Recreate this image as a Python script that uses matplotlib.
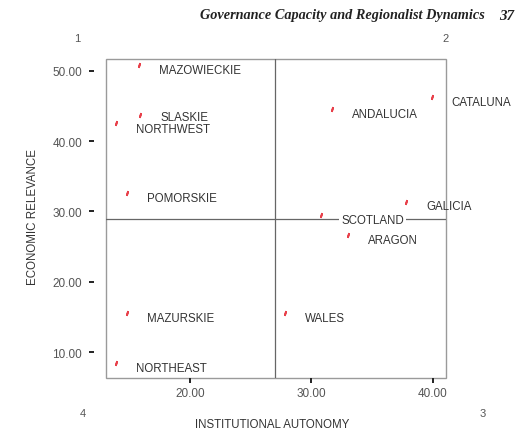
import matplotlib.pyplot as plt
from matplotlib.patches import Rectangle

# regions
regions = ["MAZOWIECKIE", "CATALUNA", "ANDALUCIA", "SLASKIE", "NORTHWEST", "POMORSKIE",
           "GALICIA", "SCOTLAND", "ARAGON", "MAZURSKIE", "WALES", "NORTHEAST"]
autonomy = [15.8, 39.9, 31.7, 15.9, 13.9, 14.8, 37.8, 30.8, 33.0, 14.8, 27.8, 13.9]
relevance = [50.8, 46.3, 44.6, 43.8, 42.6, 32.6, 31.4, 29.5, 26.6, 15.5, 15.5, 8.4]

x_ticks = [20, 30, 40]
y_ticks = [10, 20, 30, 40, 50]
x_ref = 27.0
y_ref = 29.0

plt.rcParams['font.family'] = ['Liberation Sans', 'DejaVu Sans']
txt = '#333333'

fig = plt.figure(figsize=(5.2, 4.31), dpi=100)
ax = fig.add_axes([0.2038, 0.1206, 0.6538, 0.7402])
ax.set_xlim(13.09, 41.07)
ax.set_ylim(6.3, 51.7)

for s in ax.spines.values():
    s.set_color('none')
ax.spines['left'].set_position(('outward', 8.6))
ax.add_patch(Rectangle((0, 0), 1, 1, transform=ax.transAxes, fill=False,
                       edgecolor='#9a9a9a', lw=1.0, clip_on=False, zorder=1))

ax.axvline(x_ref, color='#666666', lw=0.9, zorder=1)
ax.axhline(y_ref, color='#666666', lw=0.9, zorder=1)

ax.plot(autonomy, relevance, ls='none', marker=(2, 2, -15), ms=3.6, mew=1.3,
        color='#e8404a', zorder=3)
for name, x, y in zip(regions, autonomy, relevance):
    box = None
    dy = -3.4
    if name == "SCOTLAND":
        box = dict(facecolor='white', edgecolor='none', pad=1.5)
    # these two sit very close, spread them a touch
    if name == "SLASKIE":
        dy = -2.0
    if name == "NORTHWEST":
        dy = -4.4
    ax.annotate(name, (x, y), xytext=(14.5, dy), textcoords='offset points',
                ha='left', va='center', fontsize=8.3, color=txt, bbox=box,
                annotation_clip=False, zorder=4)

ax.set_xticks(x_ticks)
ax.set_xticklabels([f"{v:.2f}" for v in x_ticks])
ax.set_yticks(y_ticks)
ax.set_yticklabels([f"{v:.2f}" for v in y_ticks])
ax.tick_params(axis='both', length=3.6, width=1.4, color='#222222',
               labelsize=8.5, labelcolor='#555555')
ax.tick_params(axis='x', pad=3.2)
ax.tick_params(axis='y', pad=5)

# axis titles placed in figure pixels
fig.text(272 / 520, 1 - 425 / 431, "INSTITUTIONAL AUTONOMY", fontsize=8.3, color=txt,
         ha='center', va='center')
fig.text(33 / 520, 1 - 217 / 431, "ECONOMIC RELEVANCE", fontsize=8.3, color=txt,
         ha='center', va='center', rotation=90)

# quadrant numbers
fig.text(77 / 520, 1 - 39 / 431, "1", fontsize=8, color='#555555', ha='center', va='center')
fig.text(446 / 520, 1 - 39 / 431, "2", fontsize=8, color='#555555', ha='center', va='center')
fig.text(483 / 520, 1 - 414 / 431, "3", fontsize=8, color='#555555', ha='center', va='center')
fig.text(83 / 520, 1 - 414 / 431, "4", fontsize=8, color='#555555', ha='center', va='center')

serif = ['Liberation Serif', 'DejaVu Serif']
fig.text(200 / 520, 1 - 16 / 431, "Governance Capacity and Regionalist Dynamics",
         family=serif, style='italic', weight='bold',
         fontsize=10.3, color='#222222', ha='left', va='center')
fig.text(499 / 520, 1 - 16 / 431, "37", family=serif, style='italic', weight='bold',
         fontsize=10.8, color='#222222', ha='left', va='center')

fig.savefig("out.png", dpi=100)
